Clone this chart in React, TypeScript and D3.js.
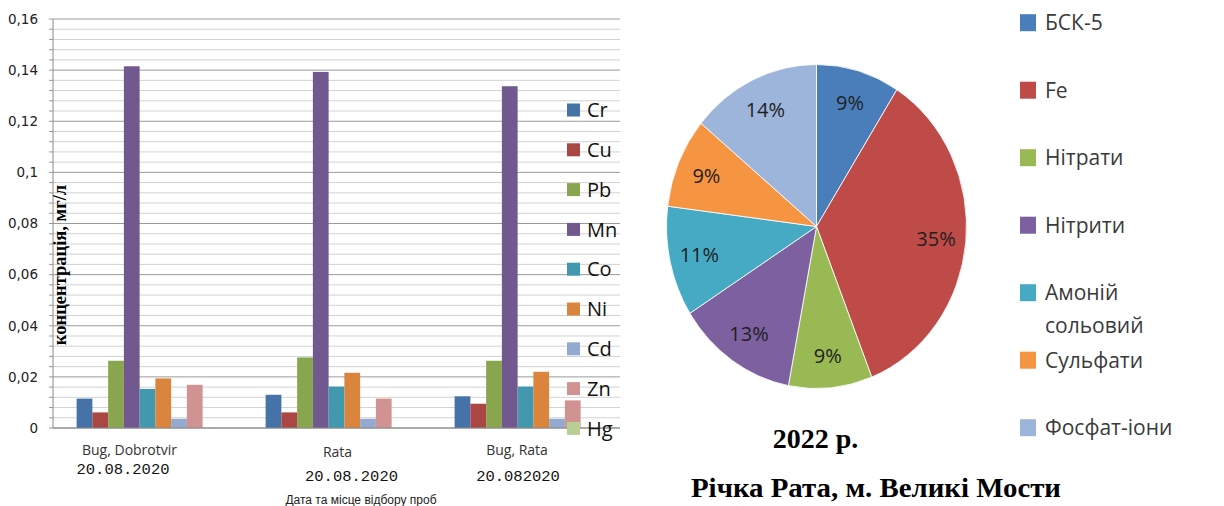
import React from "react";
import * as d3 from "d3";

const sites = ["Bug, Dobrotvir", "Rata", "Bug, Rata"];
const siteDates = ["20.08.2020", "20.08.2020", "20.082020"];
const metals = ["Cr", "Cu", "Pb", "Mn", "Co", "Ni", "Cd", "Zn", "Hg"];
const metalColors = ["#4572A7", "#AA4643", "#89A54E", "#71588F", "#4198AF", "#DB843D", "#93A9CF", "#D19392", "#B9CD96"];
const Cr = [0.0115, 0.013, 0.0124];
const Cu = [0.0061, 0.0061, 0.0095];
const Pb = [0.0263, 0.0276, 0.0263];
const Mn = [0.1415, 0.1393, 0.1337];
const Co = [0.0153, 0.0162, 0.0162];
const Ni = [0.0194, 0.0216, 0.022];
const Cd = [0.0036, 0.0036, 0.0036];
const Zn = [0.0169, 0.0115, 0.0108];
const Hg = [0.0003, 0.0003, 0.0003];
const metalValues = [Cr, Cu, Pb, Mn, Co, Ni, Cd, Zn, Hg];
const yTicks = [0, 0.02, 0.04, 0.06, 0.08, 0.1, 0.12, 0.14, 0.16];
const yTickLabels = ["0", "0,02", "0,04", "0,06", "0,08", "0,1", "0,12", "0,14", "0,16"];

const pieLabels = ["БСК-5", "Fe", "Нітрати", "Нітрити", "Амоній сольовий", "Сульфати", "Фосфат-іони"];
const pieValues = [9, 35, 9, 13, 11, 9, 14];
const pieColors = ["#4A7EBB", "#BE4B48", "#98B954", "#7D60A0", "#46AAC5", "#F59542", "#9DB5DA"];

export default function App() {
  // Bar chart geometry
  const left = 53, right = 620, top = 19, bottom = 428;
  const y = d3.scaleLinear().domain([0, 0.16]).range([bottom, top]);
  const x0 = d3.scaleBand<string>().domain(sites).range([left, right]).paddingInner(0.25).paddingOuter(0.125);
  const x1 = d3.scaleBand<string>().domain(metals).range([0, x0.bandwidth()]);
  const minorTicks = d3.range(0, 0.16001, 0.004);
  const labelDx = [-18, 1, -8.5];
  const dateDx = [-24.5, 15, -7.5];
  const dateY = [474, 480.7, 480.7];

  // Pie geometry
  const cx = 816.5, cy = 226.5, R = 150, sy = 1.08;
  const pie = d3.pie<number>().sort(null).value((d) => d)(pieValues);
  const arc = d3.arc<d3.PieArcDatum<number>>().innerRadius(0).outerRadius(R);
  const labelArc = d3.arc<d3.PieArcDatum<number>>().innerRadius(120).outerRadius(120);

  return (
    <svg width={1224} height={506} style={{ position: "absolute", left: 0, top: 0, background: "#fff" }}>
      <rect x={0} y={0} width={1224} height={506} fill="#fff" />
      {/* gridlines */}
      {minorTicks.map((t, i) => (
        <line key={"g" + i} x1={left} x2={right} y1={y(t)} y2={y(t)}
          stroke={i % 5 === 0 ? "#9a9a9a" : "#d2d2d2"} strokeWidth={1} />
      ))}
      {minorTicks.map((t, i) => (
        <line key={"t" + i} x1={left - 4} x2={left} y1={y(t)} y2={y(t)} stroke="#9a9a9a" />
      ))}
      <line x1={left} x2={left} y1={top} y2={bottom} stroke="#8a8a8a" />
      {yTicks.map((t, i) => (
        <text key={"yl" + i} x={38} y={y(t)} dy="0.36em" textAnchor="end"
          fontFamily="DejaVu Sans" fontSize={13.5} fill="#222">{yTickLabels[i]}</text>
      ))}
      {/* bars */}
      {sites.map((s, si) => (
        <g key={s} transform={`translate(${x0(s)},0)`}>
          {metals.map((m, mi) => (
            <rect key={m} x={x1(m)} y={y(metalValues[mi][si])} width={x1.bandwidth()}
              height={bottom - y(metalValues[mi][si])} fill={metalColors[mi]} />
          ))}
        </g>
      ))}
      <line x1={left} x2={right} y1={bottom} y2={bottom} stroke="#8a8a8a" />
      {/* category labels */}
      {sites.map((s, si) => (
        <g key={"c" + s}>
          <text x={(x0(s) as number) + x0.bandwidth() / 2 + labelDx[si]} y={si === 1 ? 456.7 : 455}
            textAnchor="middle" fontFamily="Open Sans" fontSize={14} fill="#333">{s}</text>
          <text x={(x0(s) as number) + x0.bandwidth() / 2 + dateDx[si]} y={dateY[si]}
            textAnchor="middle" fontFamily="Liberation Mono" fontSize={15.5} fill="#111">{siteDates[si]}</text>
        </g>
      ))}
      <text x={361} y={504} textAnchor="middle" fontFamily="Liberation Sans" fontSize={12} fill="#222">Дата та місце відбору проб</text>
      <text transform="translate(60,265) rotate(-90)" textAnchor="middle" dominantBaseline="central"
        fontFamily="Liberation Serif" fontWeight="bold" fontSize={18.5} fill="#000">концентрація, мг/л</text>
      {/* bar legend */}
      {metals.map((m, i) => (
        <g key={"lg" + m} transform={`translate(567,${110 + i * 39.8})`}>
          <rect x={0} y={-6.5} width={13} height={13} fill={metalColors[i]} />
          <text x={20} y={0} dy="0.36em" fontFamily="Open Sans" fontSize={20} fill="#111">{m}</text>
        </g>
      ))}

      {/* pie */}
      <g transform={`translate(${cx},${cy}) scale(1,${sy})`}>
        {pie.map((p, i) => (
          <path key={"p" + i} d={arc(p) as string} fill={pieColors[i]} stroke="#fff" strokeWidth={0.8} />
        ))}
      </g>
      {pie.map((p, i) => {
        const [lx, ly] = labelArc.centroid(p);
        return (
          <text key={"pl" + i} x={cx + lx} y={cy + ly * sy} textAnchor="middle" dominantBaseline="central"
            fontFamily="Open Sans" fontSize={20} fill="#1e1e1e">{pieValues[i]}%</text>
        );
      })}
      {/* pie legend */}
      {pieLabels.map((l, i) => {
        const yy = 22.7 + i * 67.5;
        const parts = l === "Амоній сольовий" ? ["Амоній", "сольовий"] : [l];
        return (
          <g key={"pg" + i}>
            <rect x={1020} y={yy - 8.5} width={16} height={17} fill={pieColors[i]} />
            {parts.map((t, k) => (
              <text key={k} x={1045} y={yy + k * 32.7} dy="0.36em" fontFamily="Open Sans" fontSize={21} fill="#3a3a3a">{t}</text>
            ))}
          </g>
        );
      })}
      <text x={815.5} y={448} textAnchor="middle" fontFamily="Liberation Serif" fontWeight="bold" fontSize={28} fill="#000">2022 р.</text>
      <text x={876} y={497} textAnchor="middle" fontFamily="Liberation Serif" fontWeight="bold" fontSize={28}
        textLength={370} lengthAdjust="spacingAndGlyphs" fill="#000">Річка Рата, м. Великі Мости</text>
    </svg>
  );
}
